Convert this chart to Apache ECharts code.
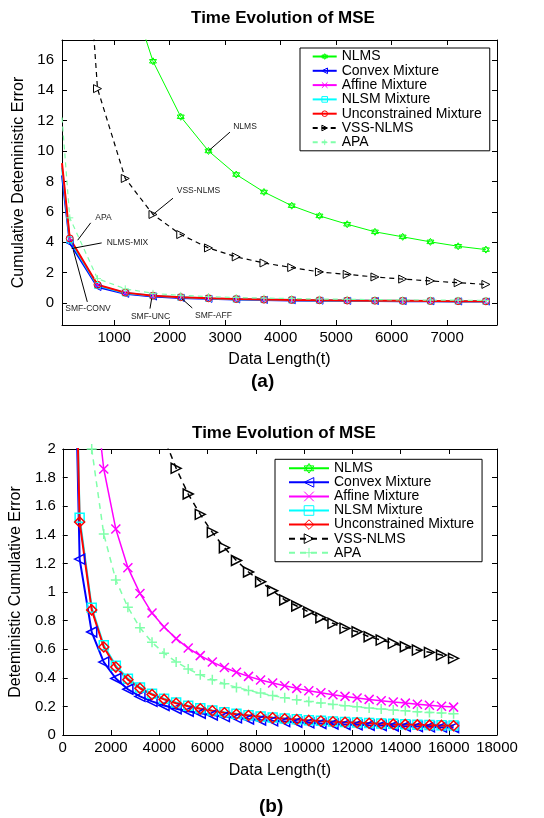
<!DOCTYPE html>
<html><head><meta charset="utf-8">
<script src="https://cdn.jsdelivr.net/npm/echarts@6/dist/echarts.min.js"></script>
<style>
html,body{margin:0;padding:0;background:#fff;}
#ca{position:absolute;left:0;top:0;width:544px;height:400px;}
#cb{position:absolute;left:0;top:400px;width:544px;height:418px;}
</style>
</head><body><div id="ca"></div><div id="cb"></div>
<script>
// ---------- shared ----------
const seriesNames = ['NLMS','Convex Mixture','Affine Mixture','NLSM Mixture','Unconstrained Mixture','VSS-NLMS','APA'];
const chartTitle = 'Time Evolution of MSE';

// ---------- chart (a) ----------
const xA = [60, 200, 700, 1200, 1700, 2200, 2700, 3200, 3700, 4200, 4700, 5200, 5700, 6200, 6700, 7200, 7700];
const nlmsA   = [null, 90, 33, 21.5, 15.9, 12.25, 10.0, 8.45, 7.3, 6.4, 5.73, 5.18, 4.68, 4.35, 4.02, 3.73, 3.51];
const convexA = [8.4, 3.95, 1.05, 0.6, 0.42, 0.33, 0.27, 0.23, 0.2, 0.17, 0.15, 0.14, 0.13, 0.12, 0.11, 0.1, 0.09];
const affineA = [9.0, 4.2, 1.18, 0.67, 0.47, 0.37, 0.3, 0.25, 0.22, 0.19, 0.17, 0.16, 0.15, 0.14, 0.13, 0.12, 0.11];
const nlsmA   = [8.9, 4.15, 1.15, 0.66, 0.47, 0.37, 0.3, 0.25, 0.22, 0.19, 0.17, 0.16, 0.15, 0.14, 0.13, 0.12, 0.11];
const unconA  = [9.2, 4.25, 1.2, 0.68, 0.48, 0.38, 0.31, 0.26, 0.22, 0.2, 0.18, 0.16, 0.15, 0.14, 0.13, 0.12, 0.11];
const vssA    = [null, 40, 14.1, 8.19, 5.82, 4.5, 3.62, 3.03, 2.63, 2.33, 2.04, 1.88, 1.71, 1.57, 1.45, 1.33, 1.22];
const apaA    = [12.2, 5.6, 1.6, 0.93, 0.63, 0.5, 0.42, 0.36, 0.32, 0.29, 0.26, 0.24, 0.22, 0.2, 0.19, 0.18, 0.17];
const xTicksA = [1000, 2000, 3000, 4000, 5000, 6000, 7000];
const yTicksA = [0, 2, 4, 6, 8, 10, 12, 14, 16];
// annotations: text, text position, arrow start, arrow tip (data units)
const annotText  = ['NLMS', 'VSS-NLMS', 'APA', 'NLMS-MIX', 'SMF-CONV', 'SMF-UNC', 'SMF-AFF'];
const annotLabel = [[3358, 11.57], [2520, 7.42], [808, 5.6], [1240, 4.0], [529, -0.35], [1655, -0.88], [2790, -0.81]];
const annotFrom  = [[3087, 11.24], [2060, 6.89], [577, 5.27], [775, 3.95], [516, 0.07], [1646, -0.37], [2408, -0.33]];
const annotTo    = [[2700, 10.0], [1700, 5.82], [343, 4.13], [235, 3.58], [264, 3.47], [1676, 0.29], [2217, 0.29]];

// ---------- chart (b) ----------
const xB = [200, 700, 1200, 1700, 2200, 2700, 3200, 3700, 4200, 4700, 5200, 5700, 6200, 6700, 7200, 7700, 8200,
            8700, 9200, 9700, 10200, 10700, 11200, 11700, 12200, 12700, 13200, 13700, 14200, 14700, 15200, 15700, 16200];
const nlmsB   = [null, 85, 50, 35, 27, 22, 18.8, 16.2, 14.3, 12.8, 11.5, 10.5, 9.7, 9.0, 8.3, 7.8, 7.3,
                 6.9, 6.5, 6.2, 5.9, 5.6, 5.4, 5.1, 4.9, 4.7, 4.5, 4.4, 4.2, 4.1, 3.9, 3.8, 3.7];
const convexB = [5.1, 1.23, 0.72, 0.51, 0.395, 0.32, 0.27, 0.235, 0.206, 0.184, 0.166, 0.152, 0.14, 0.129, 0.12, 0.112, 0.105,
                 0.099, 0.094, 0.089, 0.085, 0.081, 0.077, 0.074, 0.071, 0.068, 0.066, 0.063, 0.061, 0.059, 0.057, 0.055, 0.053];
const affineB = [15, 4.5, 2.6, 1.86, 1.44, 1.17, 0.99, 0.853, 0.755, 0.674, 0.608, 0.555, 0.51, 0.472, 0.439, 0.41, 0.385,
                 0.363, 0.344, 0.326, 0.31, 0.295, 0.282, 0.27, 0.259, 0.249, 0.239, 0.231, 0.223, 0.215, 0.208, 0.201, 0.195];
const nlsmB   = [5.4, 1.52, 0.89, 0.627, 0.484, 0.394, 0.333, 0.288, 0.254, 0.227, 0.205, 0.187, 0.172, 0.159, 0.148, 0.138, 0.13,
                 0.122, 0.116, 0.11, 0.104, 0.1, 0.095, 0.091, 0.087, 0.084, 0.081, 0.078, 0.075, 0.072, 0.07, 0.068, 0.066];
const unconB  = [5.3, 1.49, 0.875, 0.615, 0.475, 0.387, 0.327, 0.283, 0.249, 0.222, 0.201, 0.183, 0.169, 0.156, 0.145, 0.136, 0.127,
                 0.12, 0.114, 0.108, 0.102, 0.098, 0.093, 0.089, 0.086, 0.082, 0.079, 0.076, 0.074, 0.071, 0.069, 0.067, 0.065];
const vssB    = [40, 12.4, 7.3, 5.1, 3.95, 3.2, 2.72, 2.36, 2.08, 1.865, 1.685, 1.543, 1.417, 1.31, 1.22, 1.14, 1.072,
                 1.009, 0.944, 0.902, 0.86, 0.82, 0.781, 0.746, 0.722, 0.687, 0.664, 0.641, 0.617, 0.594, 0.578, 0.559, 0.536];
const apaB    = [12, 3.4, 2.0, 1.405, 1.084, 0.893, 0.75, 0.648, 0.572, 0.511, 0.462, 0.421, 0.387, 0.358, 0.333, 0.312, 0.293,
                 0.276, 0.261, 0.247, 0.235, 0.224, 0.214, 0.205, 0.197, 0.189, 0.182, 0.175, 0.169, 0.163, 0.158, 0.153, 0.148];

// ---------- styles ----------
const FONT = "'Liberation Sans', Arial, Helvetica, sans-serif";
const SYM = {
  hexagram: 'path://M5,0L9.33,7.5L0.67,7.5ZM5,10L0.67,2.5L9.33,2.5Z',
  left: 'path://M0,5L10,0L10,10Z',
  right: 'path://M10,5L0,0L0,10Z',
  cross: 'path://M0,0L10,10M0,10L10,0',
  plus: 'path://M5,0L5,10M0,5L10,5',
  square: 'rect', circle: 'circle', diamond: 'diamond'
};
const colors = ['#00ff00', '#0000ff', '#ff00ff', '#00ffff', '#ff0000', '#000000', '#80ffaa'];
const styleA = [
  {sym: SYM.hexagram, size: 7, width: 1, dash: 'solid'},
  {sym: SYM.left, size: 7, width: 2, dash: 'solid'},
  {sym: SYM.cross, size: 6, width: 1, dash: 'solid'},
  {sym: SYM.square, size: 6, width: 2, dash: 'solid'},
  {sym: SYM.circle, size: 7, width: 2, dash: 'solid'},
  {sym: SYM.right, size: 8, width: 1.2, dash: [5, 4]},
  {sym: SYM.plus, size: 7, width: 1.2, dash: [5, 4]}
];
const styleB = [
  {sym: SYM.hexagram, size: 9, width: 1.5, dash: 'solid'},
  {sym: SYM.left, size: 10, width: 2, dash: 'solid'},
  {sym: SYM.cross, size: 9, width: 1.5, dash: 'solid'},
  {sym: SYM.square, size: 9, width: 2, dash: 'solid'},
  {sym: SYM.diamond, size: 10, width: 2, dash: 'solid'},
  {sym: SYM.right, size: 10, width: 1.5, dash: [6, 5]},
  {sym: SYM.plus, size: 10, width: 1.5, dash: [6, 5]}
];

function pairs(xs, ys, hideFirst) {
  const out = [];
  xs.forEach((x, i) => {
    if (ys[i] == null) return;
    if (hideFirst && i === 0) out.push({value: [x, ys[i]], symbol: 'none'});
    else out.push([x, ys[i]]);
  });
  return out;
}
function makeSeries(name, data, st, color, markerBorder) {
  return {
    type: 'line', name: name, data: data, xAxisIndex: 0, yAxisIndex: 0,
    symbol: st.sym, symbolSize: st.size, showAllSymbol: true, clip: true,
    lineStyle: {color: color, width: st.width, type: st.dash},
    itemStyle: {color: 'rgba(255,255,255,0)', borderColor: color, borderWidth: markerBorder},
    emphasis: {disabled: true}, z: 2
  };
}
function axisPair(opts) {
  const base = {
    type: 'value', min: opts.min, max: opts.max, splitLine: {show: false},
    axisLine: {show: true, onZero: false, lineStyle: {color: '#000', width: 1}},
    axisTick: {show: true, inside: true, length: 5, lineStyle: {color: '#000'}}
  };
  if (opts.interval != null) base.interval = opts.interval;
  if (opts.ticks) base.axisTick.customValues = opts.ticks;
  const main = JSON.parse(JSON.stringify(base));
  main.position = opts.mainPos;
  main.axisLabel = {show: true, fontSize: 15, color: '#000', fontFamily: FONT, margin: opts.margin,
    formatter: v => String(+v.toFixed(6))};
  if (opts.ticks) main.axisLabel.customValues = opts.ticks;
  main.name = opts.name; main.nameLocation = 'middle'; main.nameGap = opts.nameGap;
  main.nameTextStyle = {fontSize: 16, color: '#000', fontFamily: FONT};
  const other = JSON.parse(JSON.stringify(base));
  other.position = opts.otherPos;
  other.axisLabel = {show: false};
  return [main, other];
}
function legendOpt(left, top, pad, itemWidth, itemHeight, gap) {
  return {
    orient: 'vertical', left: left, top: top, padding: pad,
    itemWidth: itemWidth, itemHeight: itemHeight, itemGap: gap,
    borderColor: '#000', borderWidth: 1, backgroundColor: '#fff',
    textStyle: {fontSize: 14, lineHeight: 14, color: '#000', fontFamily: FONT},
    itemStyle: {borderWidth: 1}, selectedMode: false,
    data: seriesNames
  };
}

// ---------- build (a) ----------
const valsA = [nlmsA, convexA, affineA, nlsmA, unconA, vssA, apaA];
const seriesA = seriesNames.map((n, i) => makeSeries(n, pairs(xA, valsA[i], true), styleA[i], colors[i], 1));
seriesA.push({
  type: 'line', name: '_annot', data: [], xAxisIndex: 0, yAxisIndex: 0, silent: true,
  markLine: {
    silent: true, animation: false, symbol: ['none', 'arrow'], symbolSize: [0, 8], precision: 4,
    lineStyle: {color: '#000', width: 1, type: 'solid'}, label: {show: false},
    data: annotFrom.map((f, i) => [{coord: f}, {coord: annotTo[i]}])
  },
  markPoint: {
    silent: true, animation: false, symbol: 'circle', symbolSize: 0,
    label: {show: true, position: 'inside', fontSize: 8.5, color: '#222', fontFamily: FONT, formatter: p => p.name},
    data: annotLabel.map((c, i) => ({name: annotText[i], coord: c}))
  }
});
const xAxesA = axisPair({min: 60, max: 7900, ticks: xTicksA, mainPos: 'bottom', otherPos: 'top', margin: 5,
  name: 'Data Length(t)', nameGap: 27});
const yAxesA = axisPair({min: -1.45, max: 17.3, ticks: yTicksA, mainPos: 'left', otherPos: 'right', margin: 8,
  name: 'Cumulative Deteministic Error', nameGap: 31});

const optA = {
  animation: false, backgroundColor: '#fff',
  title: {text: chartTitle, left: 283, top: 10, textAlign: 'center', padding: 0,
    textStyle: {fontSize: 17, fontWeight: 'bold', color: '#000', fontFamily: FONT}},
  grid: {left: 62, top: 40, width: 435, height: 285, containLabel: false},
  xAxis: xAxesA, yAxis: yAxesA,
  legend: legendOpt(300, 48, [1.5, 8, 1.5, 11.7], 24, 7, 0.3),
  graphic: [{type: 'text', left: 263 - 12, top: 372, style: {text: '(a)', fontSize: 19, fontWeight: 'bold', fill: '#000', fontFamily: FONT}}],
  series: seriesA
};

// ---------- build (b) ----------
const valsB = [nlmsB, convexB, affineB, nlsmB, unconB, vssB, apaB];
const seriesB = seriesNames.map((n, i) => makeSeries(n, pairs(xB, valsB[i], false), styleB[i], colors[i], 1.5));
const xAxesB = axisPair({min: 0, max: 18000, interval: 2000, mainPos: 'bottom', otherPos: 'top', margin: 5,
  name: 'Data Length(t)', nameGap: 28});
const yAxesB = axisPair({min: 0, max: 2, interval: 0.2, mainPos: 'left', otherPos: 'right', margin: 7,
  name: 'Deteministic Cumulative Error', nameGap: 35});

const optB = {
  animation: false, backgroundColor: '#fff',
  title: {text: chartTitle, left: 284, top: 24.5, textAlign: 'center', padding: 0,
    textStyle: {fontSize: 17, fontWeight: 'bold', color: '#000', fontFamily: FONT}},
  grid: {left: 62, top: 49, width: 435, height: 286, containLabel: false},
  xAxis: xAxesB, yAxis: yAxesB,
  legend: legendOpt(275, 59.3, [2, 8, 2, 13], 40, 12, 0.07),
  graphic: [{type: 'text', left: 273 - 14, top: 397, style: {text: '(b)', fontSize: 19, fontWeight: 'bold', fill: '#000', fontFamily: FONT}}],
  series: seriesB
};

const chA = echarts.init(document.getElementById('ca'), null, {renderer: 'canvas'});
chA.setOption(optA);
const chB = echarts.init(document.getElementById('cb'), null, {renderer: 'canvas'});
chB.setOption(optB);
</script>
</body></html>
